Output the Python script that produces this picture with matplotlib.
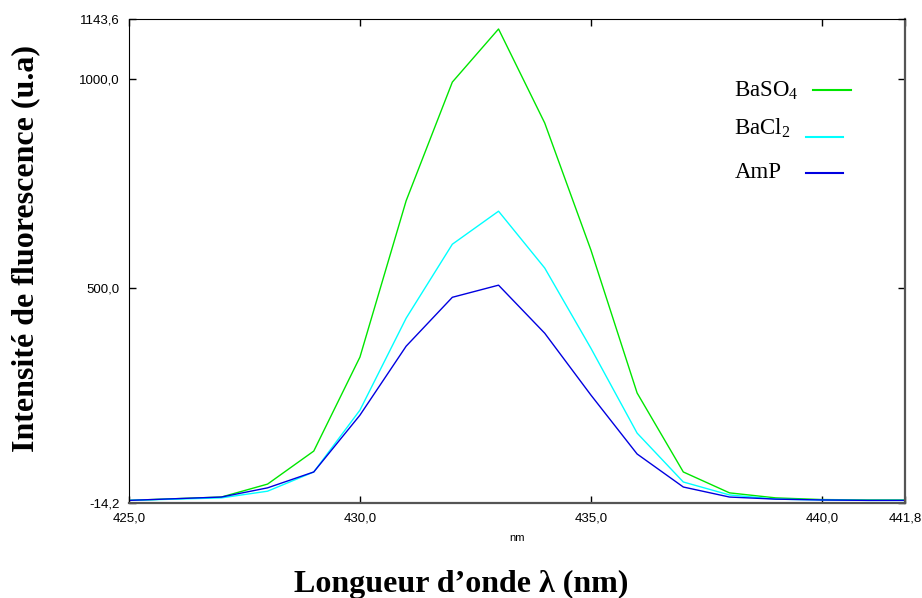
import numpy as np
import matplotlib.pyplot as plt

# wavelength grid (nm)
wl = [425, 426, 427, 428, 429, 430, 431, 432, 433, 434, 435, 436, 437, 438, 439, 440, 441, 441.8]

# fluorescence intensity (u.a)
baso4 = [-8, -4, 0, 31, 110, 335, 709, 993, 1120, 895, 591, 249, 60, 10, -2, -6, -7, -7]
bacl2 = [-8, -5, -2, 14, 60, 208, 428, 605, 684, 548, 356, 153, 36, 5, -5, -7, -8, -8]
amp = [-8, -4, 0, 22, 60, 196, 361, 478, 507, 392, 244, 103, 24, 0, -5, -7, -8, -8]

series = [("BaSO$_\\mathregular{4}$", baso4, "#00e600"),
          ("BaCl$_\\mathregular{2}$", bacl2, "#00ffff"),
          ("AmP", amp, "#0000e0")]

xticks = [425.0, 430.0, 435.0, 440.0, 441.8]
yticks = [-14.2, 500.0, 1000.0, 1143.6]

plt.rcParams["mathtext.fontset"] = "custom"
plt.rcParams["mathtext.rm"] = "Liberation Serif"

fig = plt.figure(figsize=(9.22, 5.98), dpi=100)
ax = fig.add_axes([0.1399, 0.1589, 0.8417, 0.8091])

for name, vals, col in series:
    ax.plot(wl, vals, color=col, lw=1.0)

ax.set_xlim(xticks[0], xticks[-1])
ax.set_ylim(yticks[0], yticks[-1])
ax.set_xticks(xticks)
ax.set_xticklabels([("%.1f" % v).replace(".", ",") for v in xticks],
                   family="Liberation Sans", fontsize=9.5)
ax.set_yticks(yticks)
ax.set_yticklabels([("%.1f" % v).replace(".", ",") for v in yticks],
                   family="Liberation Sans", fontsize=9.5)
ax.tick_params(direction="in", top=True, right=True, length=5, width=1)
ax.tick_params(axis="x", pad=7)
ax.tick_params(axis="y", pad=7)

ax.spines["left"].set_color("black")
ax.spines["top"].set_color("black")
ax.spines["bottom"].set_color("#555555")
ax.spines["right"].set_color("#555555")
ax.spines["bottom"].set_linewidth(1.6)
ax.spines["right"].set_linewidth(1.6)

ax.text(0.5, -0.072, "nm", transform=ax.transAxes, ha="center", va="center",
        family="Liberation Sans", fontsize=8)

fig.text(0.5, 0.023, "Longueur d\u2019onde \u03bb (nm)", ha="center", va="center",
         family="Liberation Serif", fontweight="bold", fontsize=23)
fig.text(0.028, 0.585, "Intensit\u00e9 de fluorescence (u.a)", ha="center", va="center",
         rotation=90, family="Liberation Serif", fontweight="bold", fontsize=23)

# hand-placed legend
leg_y = [0.853, 0.775, 0.684]
line_y = [0.853, 0.756, 0.682]
line_x = [(0.881, 0.930), (0.872, 0.920), (0.872, 0.920)]
for (name, vals, col), ty, ly, (x0, x1) in zip(series, leg_y, line_y, line_x):
    ax.text(0.78, ty, name, transform=ax.transAxes, ha="left", va="center",
            family="Liberation Serif", fontsize=16.5)
    ax.plot([x0, x1], [ly, ly], transform=ax.transAxes, color=col, lw=1.5,
            clip_on=False)

fig.savefig("out.png", dpi=100)
